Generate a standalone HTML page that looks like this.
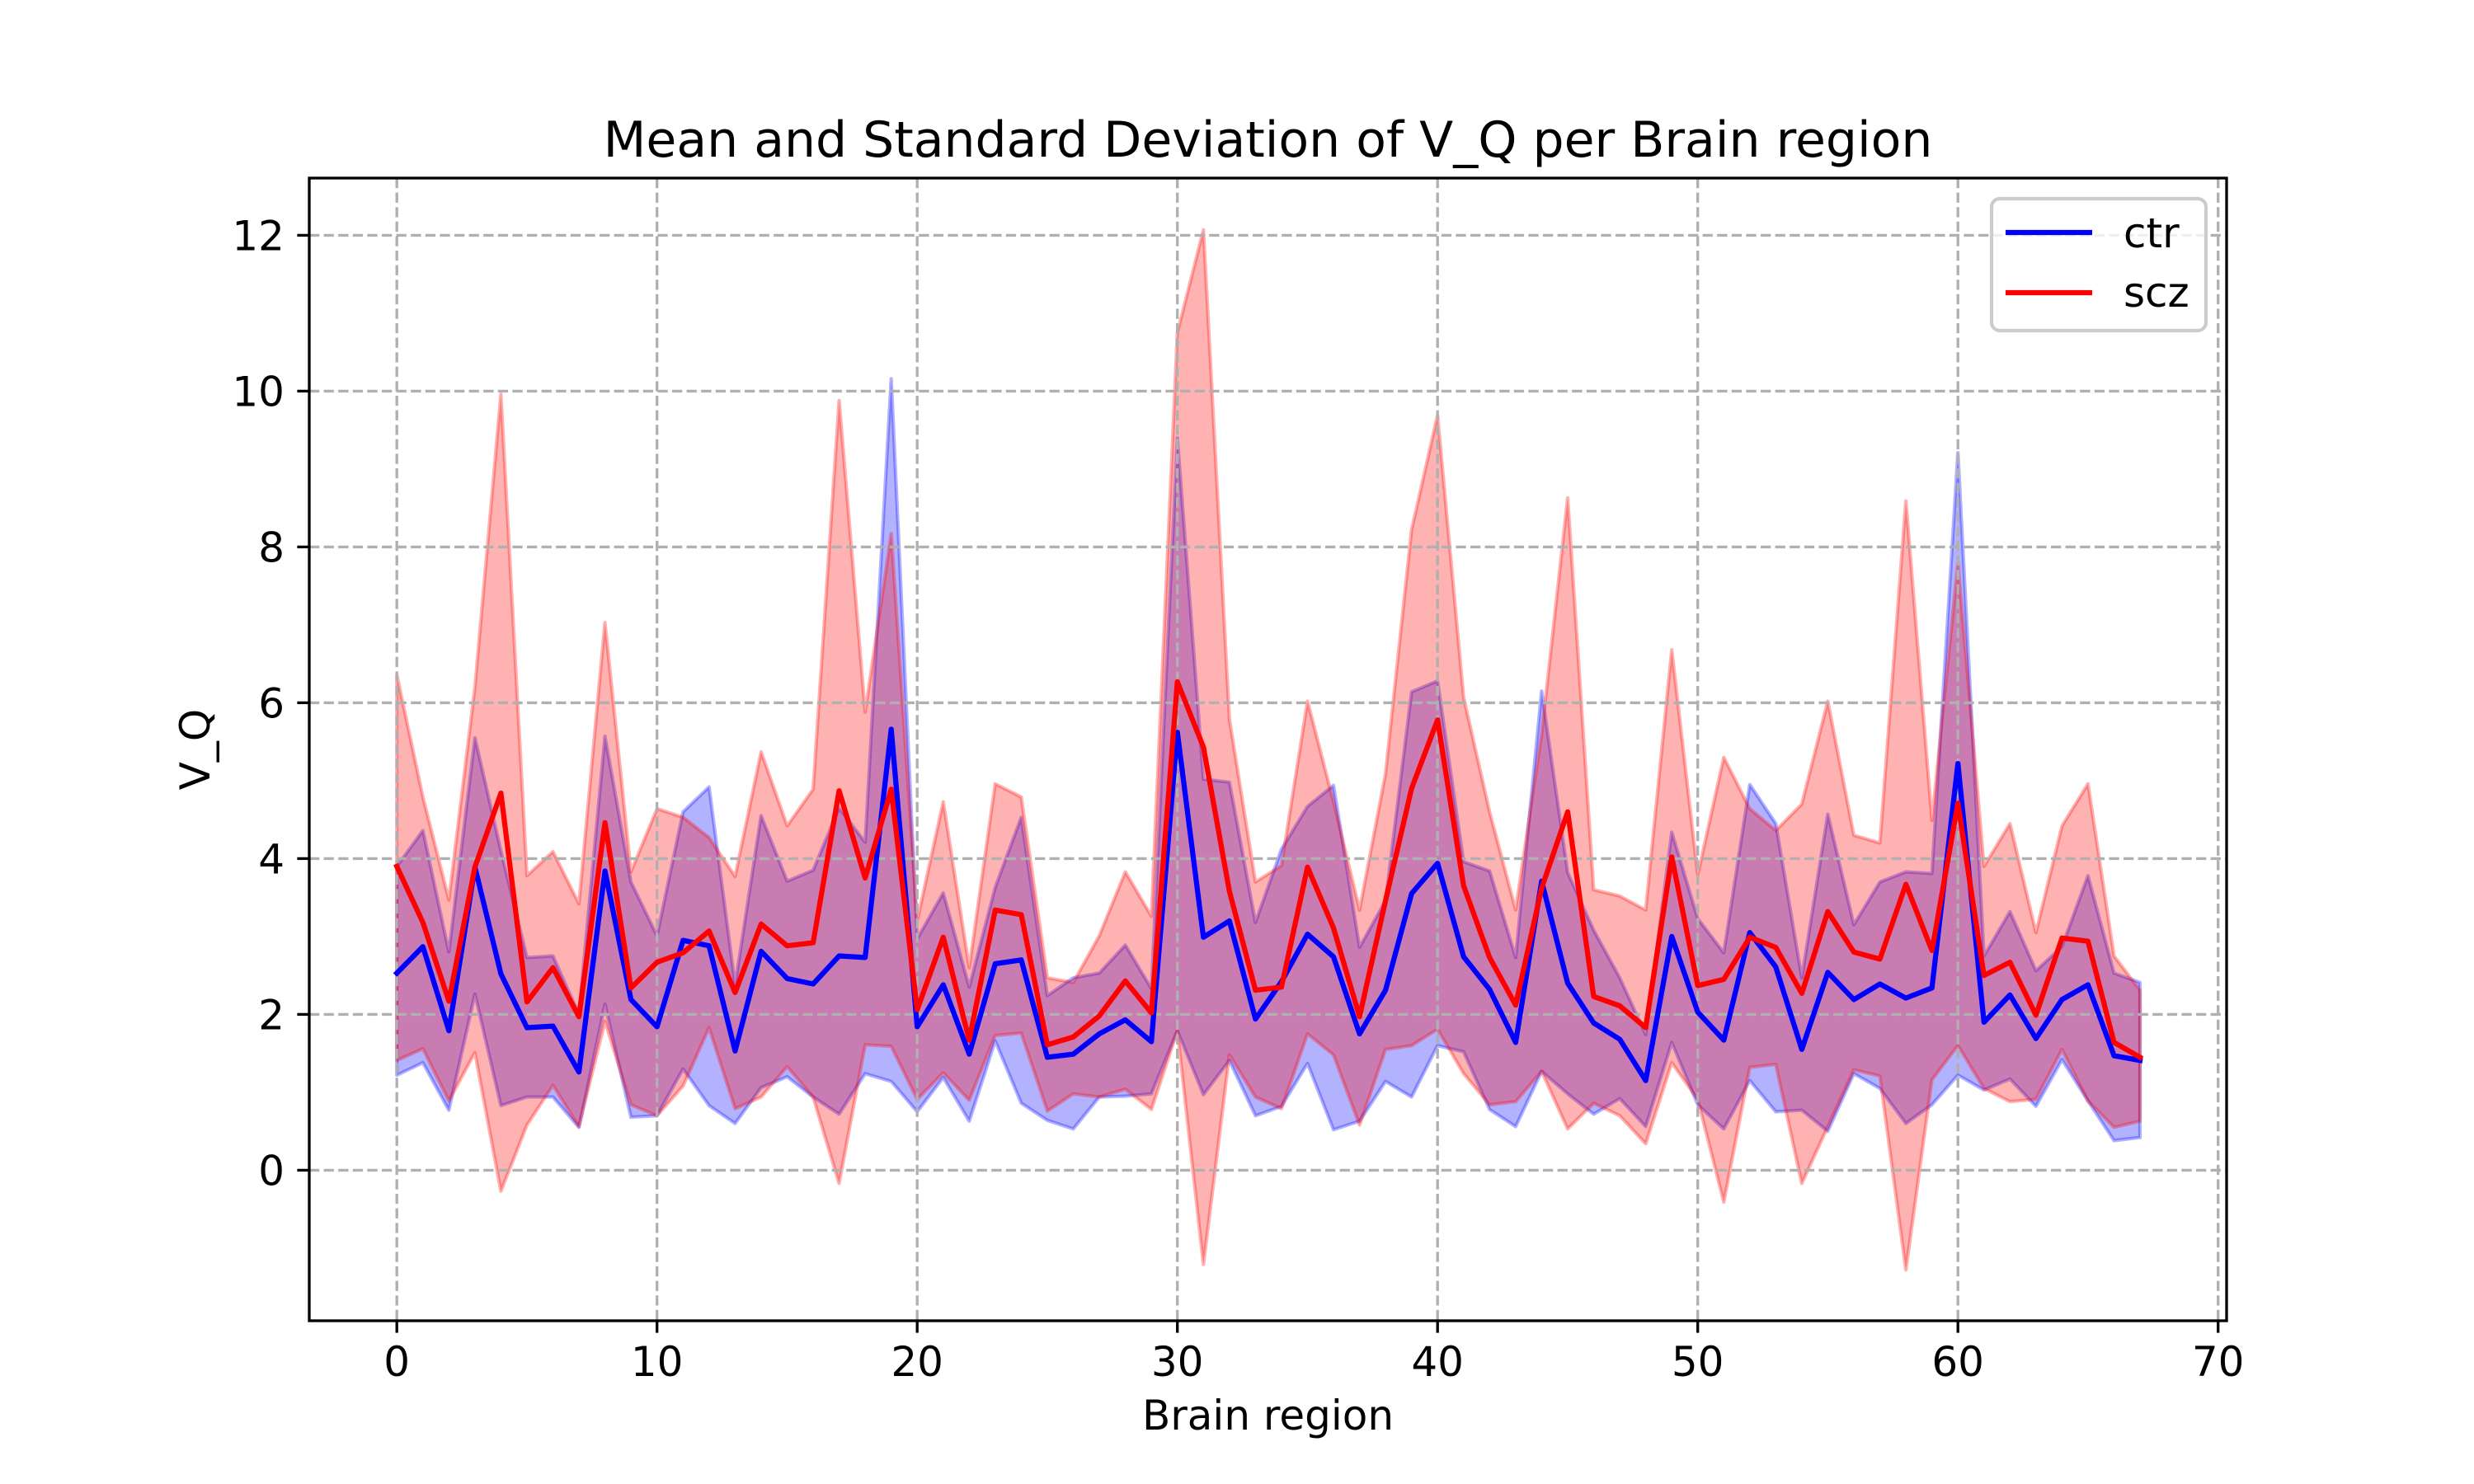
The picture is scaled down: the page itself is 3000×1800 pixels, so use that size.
<!DOCTYPE html>
<html lang="en">
<head>
<meta charset="utf-8">
<title>Mean and Standard Deviation of V_Q per Brain region</title>
<style>
html,body{margin:0;padding:0;background:#fff;}
svg{display:block;}
text{font-family:"DejaVu Sans","Liberation Sans",sans-serif;fill:#000;}
</style>
</head>
<body>
<svg id="chart" xmlns="http://www.w3.org/2000/svg" width="3000" height="1800" viewBox="0 0 3000 1800">
  <rect x="0" y="0" width="3000" height="1800" fill="#fff"/>
  <g id="bands"></g>
  <g id="grid"></g>
  <g id="lines"></g>
  <g id="ticks"></g>
  <rect x="375" y="216" width="2325" height="1386" fill="none" stroke="#000" stroke-width="3.33"/>
  <text x="1537.5" y="190" font-size="60" text-anchor="middle">Mean and Standard Deviation of V_Q per Brain region</text>
  <text x="1537.5" y="1734" font-size="50" text-anchor="middle">Brain region</text>
  <text x="0" y="0" font-size="50" text-anchor="middle" transform="translate(254 909) rotate(-90)">V_Q</text>
  <g>
    <rect x="2415" y="241" width="260" height="160" rx="10" ry="10" fill="#fff" fill-opacity="0.8" stroke="#ccc" stroke-width="4.17"/>
    <line x1="2432" y1="282" x2="2537" y2="282" stroke="#00f" stroke-width="6.25"/>
    <text x="2575" y="300" font-size="50">ctr</text>
    <line x1="2432" y1="355" x2="2537" y2="355" stroke="#f00" stroke-width="6.25"/>
    <text x="2575" y="372" font-size="50">scz</text>
  </g>
</svg>
<script>
const xTickLabels = [0, 10, 20, 30, 40, 50, 60, 70];
const yTickLabels = [0, 2, 4, 6, 8, 10, 12];

const ctrMean = [2.53,2.87,1.79,3.89,2.52,1.83,1.85,1.26,3.84,2.19,1.84,2.95,2.88,1.53,2.81,2.46,2.39,2.75,2.73,5.66,1.84,2.38,1.49,2.65,2.70,1.45,1.49,1.75,1.93,1.65,5.62,2.99,3.20,1.94,2.42,3.03,2.74,1.75,2.31,3.55,3.94,2.74,2.32,1.64,3.71,2.40,1.89,1.68,1.15,3.00,2.03,1.67,3.05,2.61,1.55,2.54,2.19,2.39,2.21,2.34,5.22,1.90,2.25,1.69,2.19,2.38,1.47,1.41];
const ctrUpper = [3.90,4.36,2.80,5.55,4.10,2.73,2.75,2.00,5.57,3.70,3.01,4.60,4.92,2.38,4.55,3.71,3.85,4.65,4.21,10.16,2.97,3.56,2.35,3.63,4.53,2.24,2.47,2.53,2.89,2.33,9.40,5.02,4.98,3.18,4.12,4.67,4.94,2.86,3.46,6.14,6.28,3.96,3.84,2.73,6.15,3.82,3.08,2.47,1.74,4.34,3.23,2.79,4.95,4.45,2.47,4.57,3.15,3.70,3.83,3.81,9.21,2.75,3.32,2.56,2.87,3.78,2.53,2.41];
const ctrLower = [1.22,1.38,0.77,2.26,0.83,0.94,0.94,0.55,2.13,0.68,0.70,1.30,0.83,0.60,1.06,1.20,0.94,0.72,1.24,1.14,0.75,1.19,0.63,1.66,0.86,0.64,0.53,0.94,0.95,0.98,1.79,0.97,1.41,0.70,0.82,1.37,0.52,0.63,1.14,0.94,1.60,1.52,0.78,0.56,1.27,0.98,0.72,0.92,0.56,1.64,0.84,0.53,1.15,0.75,0.77,0.50,1.24,1.05,0.60,0.84,1.22,1.03,1.17,0.82,1.42,0.89,0.38,0.42];

const sczMean = [3.90,3.18,2.17,3.89,4.84,2.16,2.60,1.97,4.46,2.34,2.67,2.79,3.07,2.28,3.16,2.88,2.92,4.87,3.75,4.89,2.06,2.99,1.67,3.34,3.28,1.61,1.71,1.98,2.43,2.02,6.27,5.43,3.58,2.31,2.35,3.89,3.11,1.97,3.46,4.90,5.78,3.65,2.73,2.12,3.62,4.60,2.23,2.11,1.83,4.02,2.37,2.45,2.99,2.86,2.27,3.32,2.80,2.71,3.67,2.82,4.71,2.50,2.67,1.99,2.98,2.94,1.64,1.45];
const sczUpper = [6.36,4.79,3.47,6.20,9.96,3.78,4.09,3.42,7.03,3.83,4.64,4.53,4.27,3.77,5.37,4.42,4.89,9.88,5.88,8.17,3.20,4.73,2.60,4.96,4.79,2.47,2.41,3.01,3.83,3.26,10.75,12.07,5.79,3.70,3.91,6.02,4.73,3.34,5.09,8.22,9.69,6.07,4.60,3.34,5.60,8.63,3.60,3.52,3.34,6.68,3.79,5.30,4.64,4.36,4.70,6.02,4.30,4.20,8.59,4.49,7.80,3.90,4.45,3.05,4.42,4.96,2.75,2.31];
const sczLower = [1.41,1.56,0.89,1.51,-0.27,0.58,1.09,0.56,1.91,0.84,0.70,1.08,1.83,0.79,0.94,1.33,0.94,-0.17,1.61,1.59,0.91,1.25,0.90,1.73,1.76,0.76,0.98,0.94,1.04,0.78,1.79,-1.21,1.48,0.94,0.79,1.75,1.48,0.58,1.55,1.60,1.81,1.24,0.84,0.88,1.27,0.53,0.86,0.70,0.34,1.38,0.91,-0.41,1.32,1.36,-0.17,0.56,1.29,1.21,-1.28,1.16,1.60,1.05,0.88,0.91,1.55,0.89,0.55,0.63];

const NS = 'http://www.w3.org/2000/svg';
function sx(v) { return 481.2 + v * 31.55; }
function sy(v) { return 1419.4 - v * 94.5; }

function make(parent, tag, attrs) {
  const el = document.createElementNS(NS, tag);
  for (const k in attrs) el.setAttribute(k, attrs[k]);
  parent.appendChild(el);
  return el;
}

const bandsG = document.getElementById('bands');
const gridG = document.getElementById('grid');
const linesG = document.getElementById('lines');
const ticksG = document.getElementById('ticks');

function drawBand(upper, lower, color, name) {
  const pts = [];
  upper.forEach(function (v, i) { pts.push(sx(i).toFixed(1) + ',' + sy(v).toFixed(1)); });
  for (let i = lower.length - 1; i >= 0; i--) pts.push(sx(i).toFixed(1) + ',' + sy(lower[i]).toFixed(1));
  const el = make(bandsG, 'polygon', {
    points: pts.join(' '), fill: color, 'fill-opacity': 0.3,
    stroke: color, 'stroke-opacity': 0.3, 'stroke-width': 4.17, 'stroke-linejoin': 'round'
  });
  
  
}

function drawLine(values, color, name) {
  const pts = values.map(function (v, i) { return sx(i).toFixed(1) + ',' + sy(v).toFixed(1); });
  const el = make(linesG, 'polyline', {
    points: pts.join(' '), fill: 'none', stroke: color, 'stroke-width': 6.25,
    'stroke-linejoin': 'round', 'stroke-linecap': 'square'
  });
  
  
}

drawBand(ctrUpper, ctrLower, '#0000ff', 'ctr-std-band');
drawBand(sczUpper, sczLower, '#ff0000', 'scz-std-band');

xTickLabels.forEach(function (t) {
  const x = sx(t);
  const g = make(gridG, 'line', { x1: x, y1: 216, x2: x, y2: 1602, stroke: '#b0b0b0', 'stroke-width': 3.33, 'stroke-dasharray': '12.3 5.3' });
  
  
  const m = make(ticksG, 'line', { x1: x, y1: 1602, x2: x, y2: 1616.6, stroke: '#000', 'stroke-width': 3.33 });
  
  
  const l = make(ticksG, 'text', { x: x, y: 1669, 'font-size': 50, 'text-anchor': 'middle' });
  l.textContent = String(t);
  
  
});

yTickLabels.forEach(function (t) {
  const y = sy(t);
  const g = make(gridG, 'line', { x1: 375, y1: y, x2: 2700, y2: y, stroke: '#b0b0b0', 'stroke-width': 3.33, 'stroke-dasharray': '12.3 5.3' });
  
  
  const m = make(ticksG, 'line', { x1: 360.4, y1: y, x2: 375, y2: y, stroke: '#000', 'stroke-width': 3.33 });
  
  
  const l = make(ticksG, 'text', { x: 345, y: y + 18, 'font-size': 50, 'text-anchor': 'end' });
  l.textContent = String(t);
  
  
});

drawLine(ctrMean, '#0000ff', 'ctr-mean-line');
drawLine(sczMean, '#ff0000', 'scz-mean-line');
</script>
</body>
</html>
